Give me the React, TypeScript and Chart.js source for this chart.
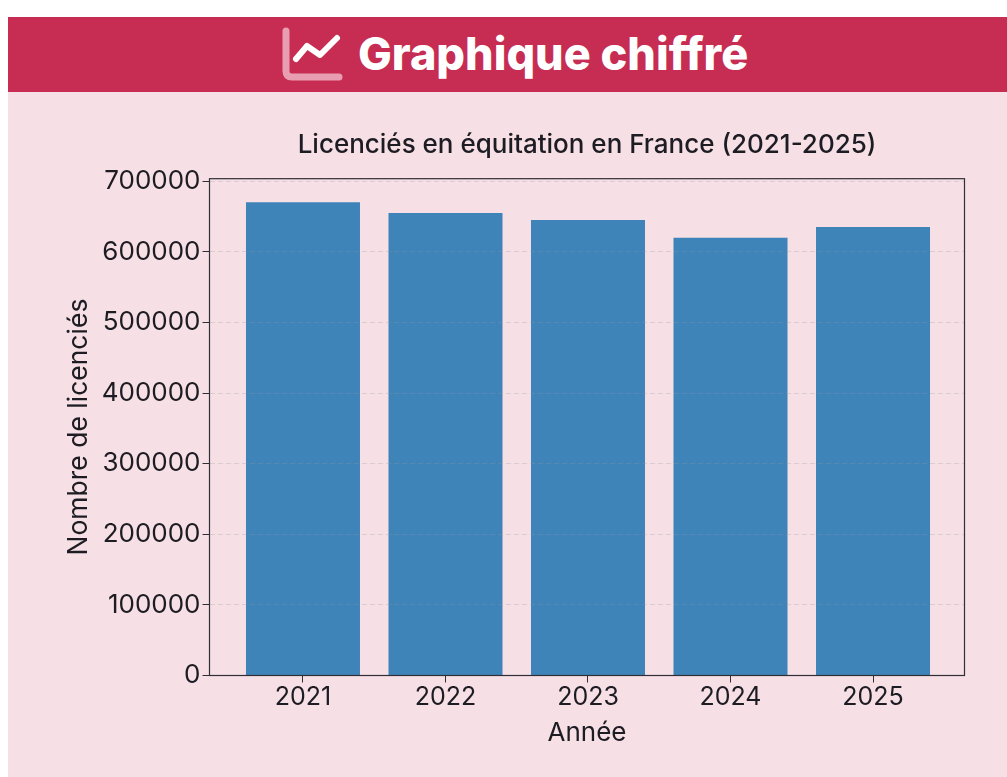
import React, { useEffect, useRef } from "react";
import { Chart, registerables } from "chart.js";

Chart.register(...registerables);

const years = [2021, 2022, 2023, 2024, 2025];
const licencies = [670000, 655000, 645000, 620000, 635000];
const yTicks = [0, 100000, 200000, 300000, 400000, 500000, 600000, 700000];
const yAxisTop = 703500;
const titleText = "Licenciés en équitation en France (2021-2025)";
const yLabel = "Nombre de licenciés";
const xLabel = "Année";
const headerText = "Graphique chiffré";

const FONT = "Inter, 'Noto Sans', sans-serif";
const INK = "#1c1c22";

const framePlugin = {
  id: "frame",
  afterDraw(chart: any) {
    const { ctx, chartArea: a } = chart;
    ctx.save();
    ctx.strokeStyle = "#2f2f35";
    ctx.lineWidth = 1.2;
    ctx.strokeRect(a.left, a.top, a.right - a.left, a.bottom - a.top);
    ctx.restore();
  },
};

export default function App() {
  const ref = useRef<HTMLCanvasElement | null>(null);

  useEffect(() => {
    if (!ref.current) return;
    const chart = new Chart(ref.current, {
      type: "bar",
      data: {
        datasets: [
          {
            data: years.map((y, i) => ({ x: y, y: licencies[i] })),
            backgroundColor: "#3f84b8",
            barPercentage: 0.8,
            categoryPercentage: 1,
          },
        ],
      },
      plugins: [framePlugin],
      options: {
        animation: false,
        responsive: false,
        layout: { padding: { left: 55, right: 42.5, top: 38, bottom: 28 } },
        plugins: {
          legend: { display: false },
          tooltip: { enabled: false },
          title: {
            display: true,
            text: titleText,
            fullSize: false,
            color: INK,
            font: { family: FONT, size: 26, weight: "500" },
            padding: { top: 0, bottom: 17.5 },
          },
        },
        scales: {
          x: {
            type: "linear",
            offset: false,
            min: 2020.344,
            max: 2025.642,
            afterBuildTicks(scale: any) {
              scale.ticks = years.map((value) => ({ value }));
            },
            afterFit(scale: any) {
              scale.height = 73.5;
            },
            grid: { display: true, offset: false, drawOnChartArea: false, drawTicks: true, tickLength: 7, tickColor: "#2f2f35", tickWidth: 1 },
            border: { display: false },
            ticks: {
              color: INK,
              autoSkip: false,
              maxRotation: 0,
              padding: 0,
              font: { family: FONT, size: 25 },
              callback: (v: any) => String(v),
            },
            title: {
              display: true,
              text: xLabel,
              color: INK,
              font: { family: FONT, size: 26 },
              padding: { top: 0, bottom: 0 },
            },
          },
          y: {
            type: "linear",
            min: 0,
            max: yAxisTop,
            afterBuildTicks(scale: any) {
              scale.ticks = yTicks.map((value) => ({ value }));
            },
            afterFit(scale: any) {
              scale.width = 146.5;
            },
            grid: {
              z: 1,
              offset: false,
              color: "rgba(150,150,160,0.28)",
              lineWidth: 1,
              tickColor: "#2f2f35",
              tickLength: 7,
              tickBorderDash: [],
            } as any,
            border: { display: false, dash: [5, 3] },
            ticks: {
              color: INK,
              autoSkip: false,
              padding: 2,
              font: { family: FONT, size: 26 },
              callback: (v: any) => String(v),
            },
            title: {
              display: true,
              text: yLabel,
              color: INK,
              font: { family: FONT, size: 26.5 },
              padding: { top: 0, bottom: 0 },
            },
          },
        },
      } as any,
    });
    return () => chart.destroy();
  }, []);

  return (
    <div style={{ position: "absolute", left: 8, top: 17, width: 999, height: 760, background: "#f6dfe5", overflow: "hidden" }}>
      <div style={{ position: "relative", height: 75, background: "#c72c52" }}>
        <svg width={70} height={60} viewBox="0 0 70 60" style={{ position: "absolute", left: 270, top: 8 }} fill="none">
          <path d="M8 6 V46 Q8 52 14 52 H61" stroke="#e89db1" strokeWidth={7} strokeLinecap="round" />
          <path d="M18 34 L29 21 L42 30 L59 13" stroke="#ffffff" strokeWidth={6} strokeLinecap="round" strokeLinejoin="round" />
        </svg>
        <div
          style={{
            position: "absolute",
            left: 350,
            top: 0,
            height: 74,
            lineHeight: "74px",
            fontFamily: FONT,
            fontWeight: 800,
            fontSize: 45,
            color: "#ffffff",
            whiteSpace: "nowrap",
          }}
        >
          {headerText}
        </div>
      </div>
      <canvas ref={ref} width={999} height={685} style={{ display: "block", width: 999, height: 685 }} />
    </div>
  );
}
